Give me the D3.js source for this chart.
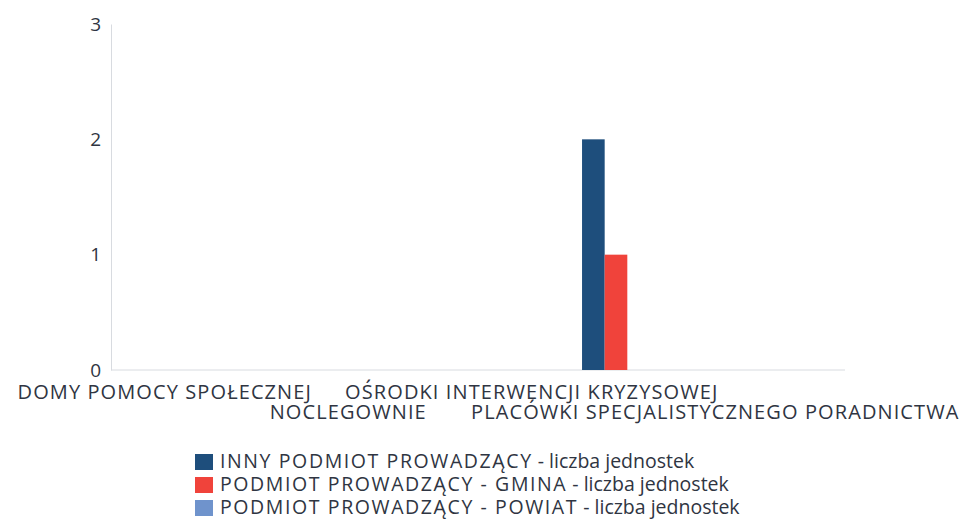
<!DOCTYPE html>
<html>
<head>
<meta charset="utf-8">
<script src="https://cdn.jsdelivr.net/npm/d3@7"></script>
<style>
  body { margin: 0; background: #fff; }
  text { font-family: "Open Sans", sans-serif; fill: #2f3542; }
</style>
</head>
<body>
<div id="chart"></div>
<script>
const categories = ["DOMY POMOCY SPOŁECZNEJ", "NOCLEGOWNIE", "OŚRODKI INTERWENCJI KRYZYSOWEJ", "PLACÓWKI SPECJALISTYCZNEGO PORADNICTWA"];
const seriesNames = ["INNY PODMIOT PROWADZĄCY - liczba jednostek", "PODMIOT PROWADZĄCY - GMINA - liczba jednostek", "PODMIOT PROWADZĄCY - POWIAT - liczba jednostek"];
const inny = [0, 0, 2, 0];
const gmina = [0, 0, 1, 0];
const powiat = [0, 0, 0, 0];
const yTicks = [0, 1, 2, 3];
const colors = ["#1e4e7c", "#f0433b", "#6f93cc"];

const W = 980, H = 521;
const margin = {left: 111, right: 845, top: 24, bottom: 370};

const svg = d3.select("#chart").append("svg")
  .attr("width", W).attr("height", H);

const x0 = d3.scaleBand().domain(categories).range([margin.left, margin.right]);
const x1 = d3.scaleBand().domain(seriesNames)
  .range([x0.bandwidth() * 0.567, x0.bandwidth() * 0.937]);
const y = d3.scaleLinear().domain([0, 3]).range([margin.bottom, margin.top]);

// y axis
const yAxis = svg.append("g").attr("transform", `translate(${margin.left},0)`)
  .call(d3.axisLeft(y).tickValues(yTicks).tickSize(0).tickPadding(10).tickFormat(d3.format("d")));
yAxis.select(".domain").attr("stroke", "#d8dbe0");
yAxis.selectAll("text").attr("font-size", 19).attr("fill", "#2f3542")
  .attr("font-family", "Open Sans");

// x axis line
svg.append("line")
  .attr("x1", margin.left).attr("x2", margin.right)
  .attr("y1", margin.bottom).attr("y2", margin.bottom)
  .attr("stroke", "#d8dbe0");

// bars
const values = [inny, gmina, powiat];
const rows = [];
categories.forEach((c, i) => {
  seriesNames.forEach((s, j) => rows.push({cat: c, series: s, value: values[j][i], color: colors[j]}));
});

svg.selectAll(".bar").data(rows.filter(d => d.value > 0)).enter()
  .append("rect")
  .attr("class", "bar")
  .attr("x", d => x0(d.cat) + x1(d.series))
  .attr("y", d => y(d.value))
  .attr("width", x1.bandwidth())
  .attr("height", d => y(0) - y(d.value))
  .attr("fill", d => d.color);

// category labels, staggered
svg.selectAll(".cat").data(categories).enter()
  .append("text")
  .attr("class", "cat")
  .attr("x", d => x0(d) + x0.bandwidth() / 2 - 38)
  .attr("y", (d, i) => i % 2 === 0 ? 399 : 419)
  .attr("text-anchor", "middle")
  .attr("font-size", 20)
  .attr("letter-spacing", 1.1)
  .text(d => d);

// legend
const legend = svg.append("g").attr("transform", "translate(195,454)");
const item = legend.selectAll("g").data(seriesNames).enter()
  .append("g")
  .attr("transform", (d, i) => `translate(0,${i * 23})`);
item.append("rect")
  .attr("width", 18).attr("height", 16)
  .attr("fill", (d, i) => colors[i]);
const lt = item.append("text")
  .attr("x", 25).attr("y", 14)
  .attr("font-size", 19.5);
lt.append("tspan")
  .attr("letter-spacing", 1.6)
  .text(d => d.split(" - liczba")[0]);
lt.append("tspan")
  .text(d => " - liczba" + d.split(" - liczba")[1]);
</script>
</body>
</html>
